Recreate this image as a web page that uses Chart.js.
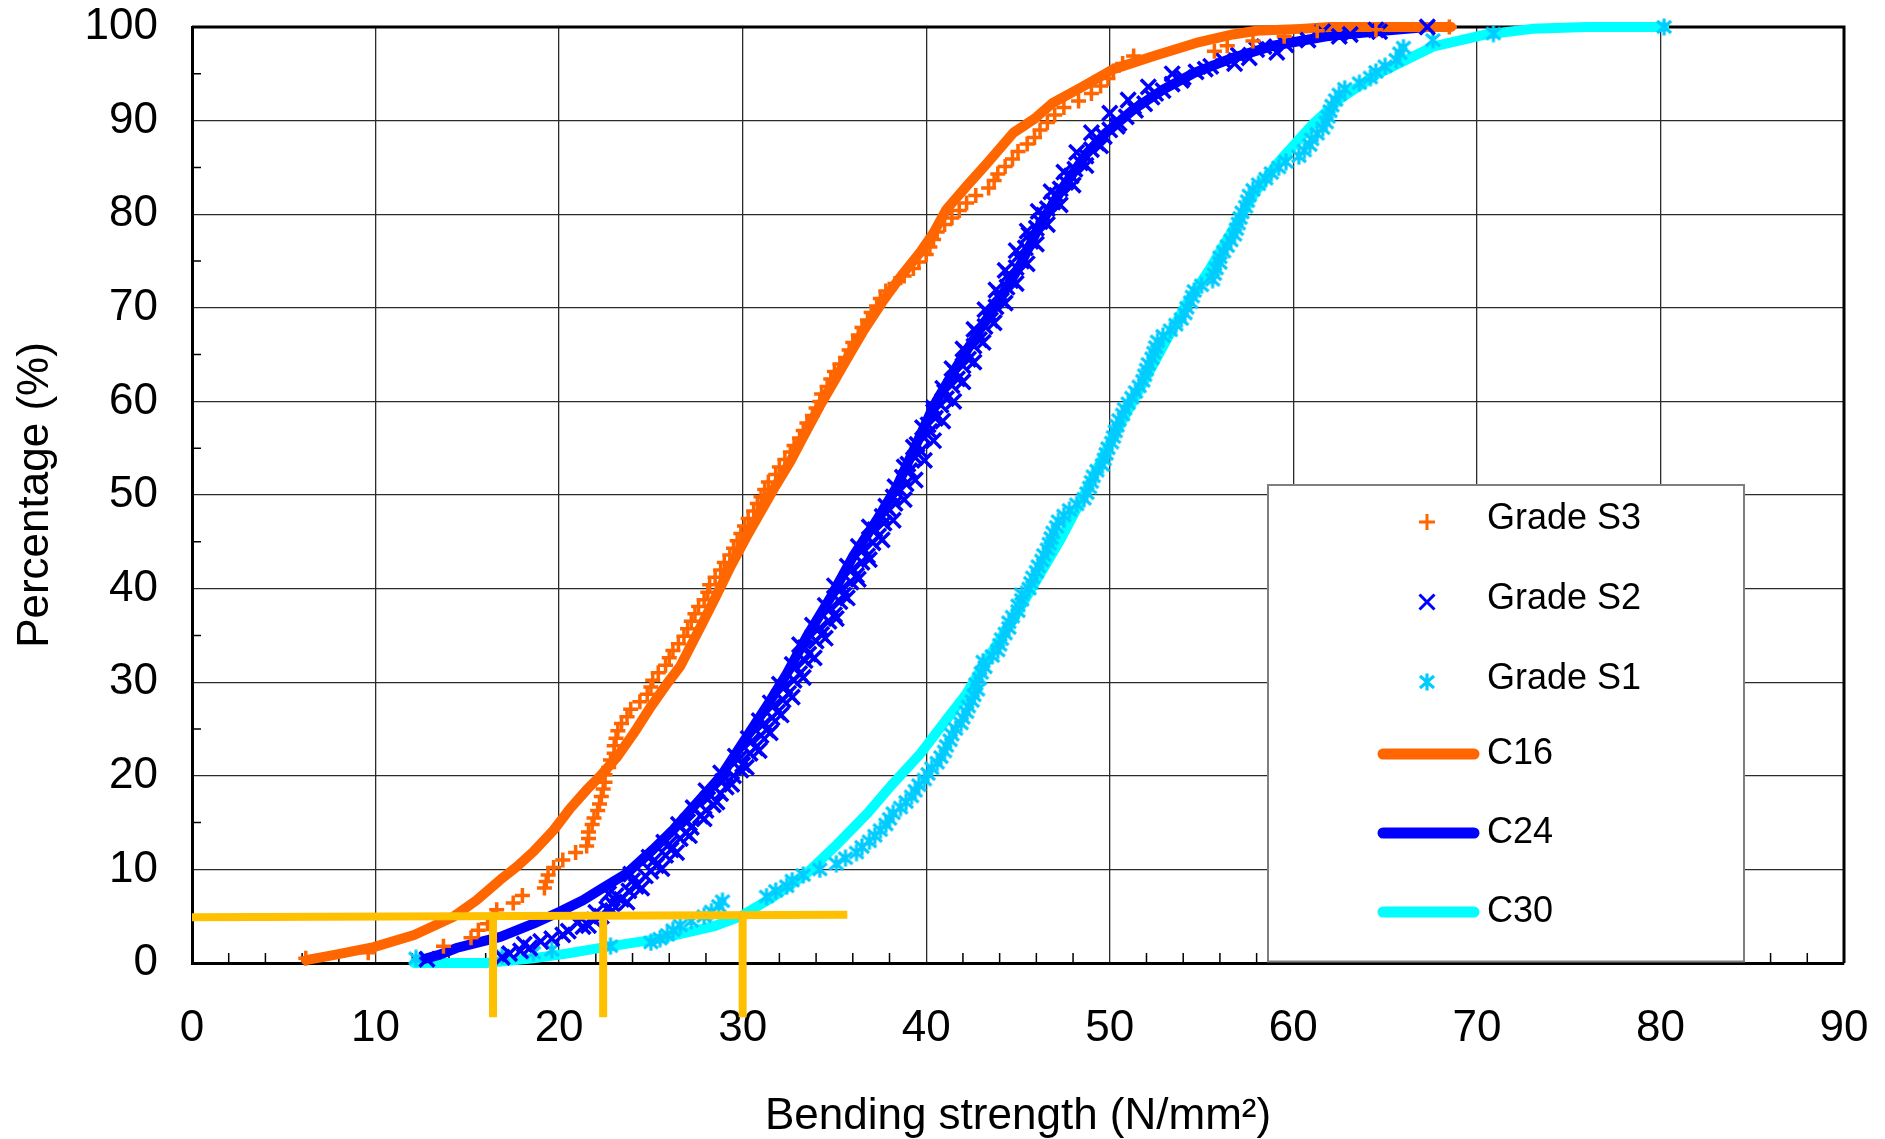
<!DOCTYPE html>
<html>
<head>
<meta charset="utf-8">
<script src="https://cdn.jsdelivr.net/npm/chart.js@4.4.1/dist/chart.umd.min.js"></script>
<style>
  html, body { margin: 0; padding: 0; background: #fff; overflow: hidden; }
  #chart { display: block; }
</style>
</head>
<body>
<canvas id="chart" width="1885" height="1139"></canvas>
<script>
// [strength N/mm2, cumulative %]
const gradeS3 = [[6.2,0.5],[9.6,1.1],[13.7,1.8],[15.2,2.7],[15.6,3.5],[16.1,4.2],[16.4,5.0],[16.6,5.7],[17.5,6.4],[18.0,7.2],
  [19.2,8.0],[19.3,8.7],[19.4,9.4],[19.7,10.2],[20.2,11.0],[20.9,11.8],[21.5,12.5],[21.6,13.3],[21.6,14.0],[21.8,14.8],
  [21.9,15.5],[22.1,16.3],[22.2,17.0],[22.3,17.8],[22.4,18.6],[22.5,19.3],[22.5,20.1],[22.7,20.9],[22.8,21.7],[23.0,22.4],
  [23.0,23.2],[23.1,24.0],[23.2,24.8],[23.4,25.6],[23.7,26.3],[23.9,27.1],[24.4,27.9],[24.8,28.7],[25.0,29.5],[25.1,30.2],
  [25.4,31.0],[25.8,31.8],[26.0,32.6],[26.2,33.4],[26.5,34.1],[26.8,34.9],[27.0,35.7],[27.2,36.5],[27.4,37.3],[27.6,38.1],
  [27.9,38.8],[28.1,39.6],[28.2,40.4],[28.5,41.2],[28.8,42.0],[29.0,42.8],[29.3,43.6],[29.5,44.3],[29.7,45.1],[29.9,45.9],
  [30.1,46.7],[30.3,47.5],[30.6,48.3],[30.8,49.1],[31.0,49.8],[31.2,50.6],[31.4,51.4],[31.8,52.2],[32.0,53.0],[32.3,53.8],
  [32.6,54.6],[32.8,55.3],[33.1,56.1],[33.3,56.9],[33.5,57.7],[33.8,58.5],[34.0,59.3],[34.2,60.0],[34.3,60.8],[34.6,61.6],
  [34.8,62.4],[35.0,63.2],[35.3,64.0],[35.6,64.7],[35.8,65.5],[36.0,66.3],[36.3,67.1],[36.5,67.9],[36.8,68.7],[37.0,69.5],
  [37.3,70.2],[37.5,71.0],[37.8,71.8],[38.3,72.6],[38.8,73.4],[39.3,74.2],[39.6,74.9],[40.0,75.7],[40.2,76.5],[40.4,77.3],
  [40.6,78.1],[41.0,78.9],[41.4,79.6],[41.8,80.4],[42.2,81.2],[42.7,82.0],[43.4,82.8],[43.7,83.6],[43.9,84.3],[44.3,85.1],
  [44.7,85.9],[45.0,86.7],[45.5,87.5],[45.9,88.2],[46.2,89.0],[46.6,89.8],[47.0,90.6],[47.5,91.4],[48.3,92.1],[49.0,92.9],
  [49.5,93.7],[49.9,94.5],[50.2,95.3],[50.7,96.1],[51.3,96.9],[55.7,97.4],[56.4,98.0],[57.8,98.5],[59.5,99.0],[61.3,99.6],
  [64.5,99.7],[68.5,100]];

const gradeS2 = [[12.8,0.4],[16.9,0.6],[17.3,1.0],[17.9,1.3],[18.4,1.6],[18.1,2.0],[19.0,2.3],[19.6,2.6],[20.2,3.0],[20.5,3.4],
  [21.3,3.9],[21.0,4.3],[21.9,4.6],[22.3,5.0],[22.0,5.4],[22.6,5.8],[22.9,6.3],[23.4,6.8],[23.1,7.2],[23.8,7.7],
  [24.2,8.2],[24.0,8.8],[24.7,9.3],[25.0,9.8],[25.3,10.4],[25.2,11.0],[25.8,11.5],[26.1,12.1],[26.0,12.7],[26.6,13.3],
  [26.9,13.9],[27.2,14.5],[27.0,15.1],[27.7,15.7],[28.0,16.3],[28.4,16.9],[28.1,17.5],[28.8,18.1],[29.1,18.8],[28.9,19.4],
  [29.5,20.0],[29.9,20.6],[30.0,21.2],[29.8,21.8],[30.4,22.4],[30.7,23.0],[30.5,23.7],[31.0,24.3],[31.3,24.9],[31.2,25.6],
  [31.6,26.2],[31.9,26.8],[31.7,27.5],[32.2,28.1],[32.5,28.8],[32.3,29.5],[32.8,30.2],[33.1,30.9],[32.9,31.6],[33.4,32.3],
  [33.6,33.0],[33.4,33.7],[34.0,34.4],[34.3,35.1],[34.2,35.8],[34.7,36.5],[35.0,37.2],[34.8,37.9],[35.3,38.6],[35.5,39.3],
  [35.4,40.0],[35.9,40.7],[36.2,41.4],[36.0,42.1],[36.5,42.8],[36.8,43.5],[36.6,44.2],[37.1,44.9],[37.4,45.6],[37.2,46.3],
  [37.7,47.0],[37.6,47.7],[38.0,48.4],[38.3,49.1],[38.2,49.8],[38.6,50.5],[38.9,51.2],[38.7,51.9],[39.1,52.6],[39.0,53.3],
  [39.4,54.0],[39.7,54.7],[39.5,55.4],[39.9,56.1],[40.2,56.8],[40.1,57.5],[40.5,58.2],[40.4,58.9],[40.8,59.6],[41.1,60.3],
  [41.0,61.0],[41.4,61.7],[41.7,62.4],[41.6,63.1],[42.0,63.8],[42.3,64.5],[42.2,65.2],[42.6,65.9],[42.9,66.6],[42.8,67.3],
  [43.2,68.0],[43.5,68.7],[43.4,69.4],[43.8,70.1],[44.1,70.8],[44.0,71.5],[44.4,72.2],[44.6,72.9],[44.5,73.6],[44.9,74.3],
  [45.2,75.0],[45.1,75.7],[45.4,76.4],[45.7,77.1],[45.6,77.8],[46.0,78.5],[46.2,79.2],[46.4,79.9],[46.6,80.6],[46.9,81.3],
  [47.1,82.0],[47.3,82.7],[47.6,83.4],[47.9,84.1],[48.1,84.8],[48.4,85.5],[48.7,86.2],[49.0,86.9],[49.3,87.6],[49.7,88.3],
  [50.0,89.0],[50.5,89.7],[50.9,90.4],[51.4,91.1],[51.9,91.8],[52.3,92.5],[52.9,93.2],[53.4,93.9],[54.0,94.6],[54.7,95.2],
  [55.5,95.8],[56.2,96.4],[57.0,97.0],[58.0,97.6],[59.6,98.1],[60.8,98.6],[62.5,99.0],[63.1,99.2],[61.6,99.5],[64.7,99.5],
  [64.5,99.7],[67.3,100],
  [21.6,4.0],[22.9,5.6],[23.7,6.5],[22.7,7.4],[24.5,8.0],[23.9,9.5],[25.6,10.1],[24.9,11.3],[26.4,11.8],[25.7,12.9],
  [27.1,13.6],[26.5,14.8],[27.9,15.4],[27.3,16.6],[28.6,17.2],[28.0,18.4],[29.4,19.1],[28.8,20.3],[30.2,20.9],[29.6,22.1],
  [30.9,22.7],[30.3,24.0],[31.5,24.6],[30.9,25.9],[32.1,26.5],[31.5,27.8],[32.7,28.4],[32.0,29.8],[33.3,30.5],[32.7,31.9],
  [33.9,32.6],[33.1,34.0],[34.5,34.7],[33.8,36.1],[35.1,36.8],[34.5,38.2],[35.7,39.0],[35.0,40.3],[36.3,41.0],[35.7,42.4],
  [36.9,43.1],[36.3,44.5],[37.6,45.2],[36.9,46.6],[38.2,47.3],[37.8,48.8],[38.8,49.5],[38.3,50.9],[39.4,51.6],[38.8,53.0],
  [39.9,53.7],[39.3,55.1],[40.4,55.8],[39.8,57.2],[40.9,57.9],[40.4,59.3],[41.5,60.0],[40.9,61.4],[42.0,62.1],[41.4,63.5],
  [42.6,64.2],[42.0,65.6],[43.1,66.3],[42.6,67.7],[43.7,68.4],[43.2,69.8],[44.3,70.5],[43.8,71.9],[44.9,72.6],[44.3,74.0],
  [45.5,74.7],[44.9,76.1],[46.0,76.8],[45.5,78.2],[46.6,78.9],[46.1,80.3],[47.3,81.0],[46.8,82.4],[48.0,83.1],[47.5,84.5],
  [48.7,85.2],[48.2,86.6],[49.5,87.3],[49.0,88.7],[50.4,89.4],[50.0,90.8],[51.3,91.5],[51.0,92.2],[52.5,92.9],[52.1,93.6],
  [53.9,94.3],[53.4,95.0],[55.2,95.5],[56.8,96.1],[57.6,96.7],[59.1,97.3],[58.4,97.9]];

const gradeS1 = [[12.2,0.5],[16.9,0.8],[18.6,1.1],[19.6,1.4],[22.8,1.8],[25.0,2.2],[25.5,2.6],[25.9,3.0],[26.2,3.5],[26.6,4.0],
  [27.2,4.5],[27.9,5.0],[28.3,5.5],[28.7,6.1],[28.9,6.6],[31.3,7.1],[31.8,7.7],[32.4,8.2],[32.7,8.8],[33.3,9.4],
  [34.2,10.0],[35.1,10.6],[35.6,11.2],[36.2,11.8],[36.5,12.4],[36.9,13.0],[37.2,13.6],[37.5,14.2],[37.8,14.8],[38.0,15.4],
  [38.2,16.0],[38.6,16.6],[38.9,17.2],[39.2,17.8],[39.4,18.4],[39.6,19.0],[39.9,19.6],[40.1,20.2],[40.3,20.8],[40.6,21.4],
  [40.8,22.0],[41.0,22.6],[41.1,23.2],[41.3,23.8],[41.4,24.4],[41.6,25.0],[41.9,25.6],[42.0,26.2],[42.2,26.8],[42.3,27.4],
  [42.5,28.0],[42.6,28.6],[42.8,29.2],[42.7,29.8],[42.9,30.4],[43.0,31.0],[43.2,31.6],[43.1,32.2],[43.6,32.8],[43.9,33.4],
  [44.0,34.0],[44.1,34.6],[44.3,35.2],[44.5,35.8],[44.5,36.4],[44.7,37.0],[45.0,37.6],[45.0,38.2],[45.2,38.8],[45.2,39.4],
  [45.6,40.0],[45.7,40.6],[45.8,41.2],[46.0,41.8],[46.1,42.4],[46.3,43.0],[46.4,43.6],[46.6,44.2],[46.7,44.8],[46.8,45.4],
  [46.9,46.0],[47.1,46.6],[47.2,47.2],[47.5,47.8],[47.8,48.4],[48.2,49.0],[48.6,49.6],[48.75,50.2],[48.9,50.8],[49.0,51.4],
  [49.1,52.0],[49.3,52.6],[49.6,53.2],[49.7,53.8],[49.8,54.4],[49.9,55.0],[50.1,55.6],[50.2,56.2],[50.3,56.8],[50.4,57.4],
  [50.5,58.0],[50.7,58.6],[50.8,59.2],[51.0,59.8],[51.2,60.4],[51.4,61.0],[51.6,61.6],[51.8,62.2],[51.9,62.8],[52.0,63.4],
  [52.1,64.0],[52.3,64.6],[52.4,65.2],[52.5,65.8],[52.6,66.4],[52.9,67.0],[53.3,67.6],[53.6,68.2],[53.9,68.8],[54.1,69.4],
  [54.2,70.0],[54.4,70.6],[54.5,71.2],[54.6,71.8],[55.0,72.4],[55.6,73.0],[55.7,73.6],[55.8,74.2],[56.0,74.8],[56.0,75.4],
  [56.2,76.0],[56.4,76.6],[56.6,77.2],[56.8,77.8],[56.9,78.4],[57.0,79.0],[57.1,79.6],[57.2,80.2],[57.4,80.8],[57.5,81.4],
  [57.6,82.0],[57.8,82.6],[58.1,83.2],[58.5,83.8],[58.8,84.4],[59.2,85.0],[59.6,85.6],[60.3,86.2],[60.6,86.8],[60.9,87.4],
  [61.0,88.0],[61.3,88.6],[61.6,89.2],[61.8,89.8],[61.9,90.4],[62.0,91.0],[62.1,91.6],[62.3,92.2],[62.5,92.8],[62.8,93.4],
  [63.6,94.0],[64.2,94.6],[64.5,95.2],[65.0,95.8],[65.6,96.5],[65.8,97.2],[66.0,97.8],[67.6,98.6],[70.9,99.3],[80.2,100]];

// characteristic-value fitted curves
const c16Curve = [[6.2,0.3],[7.7,0.85],[9.9,1.7],[12.1,3.0],[14.25,4.95],[15.5,6.7],[16.8,8.9],[17.7,10.3],[18.6,11.9],
  [19.7,14.2],[20.6,16.5],[21.5,18.5],[22.2,19.9],[23.15,22.0],[24.05,24.5],[25.0,27.4],[25.9,29.9],[26.6,31.7],[27.7,35.9],
  [28.5,39.0],[29.3,42.2],[30.2,45.5],[31.1,48.6],[31.8,51.0],[32.6,53.6],[33.3,56.2],[34.2,59.5],[35.0,62.2],[35.7,64.6],
  [36.6,67.6],[37.6,70.6],[38.6,73.3],[39.7,76.0],[40.4,78.0],[41.1,80.5],[42.2,83.0],[43.3,85.4],[44.75,88.7],[45.9,90.2],
  [46.9,91.9],[48.4,93.5],[50.2,95.5],[52.4,96.9],[54.7,98.3],[56.7,99.2],[58.0,99.6],[60.4,99.8],[62.0,100],[68.6,100]];

const c24Curve = [[12.6,0.4],[13.5,0.9],[14.4,1.6],[16.8,2.8],[18.6,4.2],[20.06,5.5],[21.3,6.7],[22.2,7.8],[23.7,9.6],
  [25.1,12.1],[26.2,14.2],[27.5,17.1],[28.8,19.9],[30.0,23.5],[31.3,27.4],[32.4,30.9],[33.5,34.9],[34.8,39.1],[36.0,43.4],
  [37.3,47.3],[38.4,50.9],[39.5,55.6],[40.4,59.5],[41.5,63.2],[42.7,67.0],[43.9,70.6],[45.1,74.5],[46.2,78.9],[47.5,83.0],
  [48.75,86.5],[49.8,88.7],[51.3,91.2],[52.9,93.3],[54.6,95.1],[56.7,96.7],[58.9,98.0],[61.8,99.0],[64.9,99.6],[67.3,100]];

const c30Curve = [[12.1,0],[16.0,0],[18.6,0.5],[20.4,1.0],[22.5,1.7],[25.5,2.6],[28.4,3.9],[29.9,5.0],[31.7,7.1],[33.5,9.6],
  [35.0,12.4],[36.8,16.0],[38.2,19.2],[39.7,22.4],[41.1,26.0],[42.2,28.8],[43.3,32.4],[44.7,36.6],[45.8,40.2],[47.3,45.2],
  [48.6,50.0],[50.0,55.5],[51.4,60.5],[52.8,65.5],[54.2,70.5],[55.4,74.0],[56.6,78.0],[57.9,82.3],[59.3,85.8],[61.0,89.5],
  [62.6,92.4],[64.5,94.9],[67.6,97.9],[70.5,99.2],[73.0,99.8],[76.0,100],[80.2,100]];

// 5 % fractile guide
const fractileLine = [[0,4.9],[35.7,5.15]];
const fractileValues = [16.4, 22.4, 30.0];
const fractileDrop = [5.0, -5.8];

const xTicks = [0, 90, 10];
const yTicks = [0, 100, 10];

const FONT = 'Liberation Sans, Arial, sans-serif';
const ORANGE = '#FF6600';
const BLUE = '#0000FF';
const SKY = '#00CCFF';
const CYAN = '#00FFFF';
const GOLD = '#FFC000';

function toXY(pairs) {
  return pairs.map(p => ({ x: p[0], y: p[1] }));
}

function asteriskIcon(color) {
  const c = document.createElement('canvas');
  c.width = 18; c.height = 18;
  const g = c.getContext('2d');
  g.strokeStyle = color;
  g.lineWidth = 3.2;
  g.beginPath();
  g.moveTo(9, 0.5); g.lineTo(9, 17.5);
  g.moveTo(2, 3); g.lineTo(16, 15);
  g.moveTo(2, 15); g.lineTo(16, 3);
  g.stroke();
  return c;
}
const asterisk = asteriskIcon(SKY);

function curve(label, pairs, color, order) {
  return {
    label, data: toXY(pairs), showLine: true, borderColor: color, backgroundColor: color,
    borderWidth: 10, pointRadius: 0, borderCapStyle: 'round', borderJoinStyle: 'round',
    tension: 0, clip: false, order
  };
}

function markers(label, pairs, style, radius, color, order) {
  return {
    label, data: toXY(pairs), showLine: false, pointStyle: style, pointRadius: radius,
    pointBorderColor: color, pointBackgroundColor: color, pointBorderWidth: 3.5,
    borderColor: color, borderWidth: 3.5, clip: false, order
  };
}

function guide(pairs) {
  return {
    label: '', data: toXY(pairs), showLine: true, borderColor: GOLD, borderWidth: 8,
    pointRadius: 0, borderCapStyle: 'butt', clip: false, order: 0
  };
}

const datasets = [
  markers('Grade S3', gradeS3, 'cross', 7.5, ORANGE, 1),
  markers('Grade S2', gradeS2, 'crossRot', 10.5, BLUE, 2),
  markers('Grade S1', gradeS1, asterisk, 9, SKY, 3),
  curve('C16', c16Curve, ORANGE, 4),
  curve('C24', c24Curve, BLUE, 5),
  curve('C30', c30Curve, CYAN, 6),
  guide(fractileLine)
];
fractileValues.forEach(v => datasets.push(guide(fractileDrop.map(p => [v, p]))));

// frame, minor ticks and the boxed legend
const framePlugin = {
  id: 'frame',
  beforeDatasetsDraw(chart) {
    const { ctx, chartArea: a, scales: { x, y } } = chart;
    ctx.save();
    ctx.strokeStyle = '#000';
    ctx.lineWidth = 1.5;
    ctx.beginPath();
    for (let v = 2; v < 90; v += 2) {
      if (v % 10 === 0) continue;
      const px = x.getPixelForValue(v);
      ctx.moveTo(px, a.bottom); ctx.lineTo(px, a.bottom - 10);
    }
    for (let v = 5; v < 100; v += 10) {
      const py = y.getPixelForValue(v);
      ctx.moveTo(a.left, py); ctx.lineTo(a.left + 9, py);
    }
    ctx.stroke();
    ctx.lineWidth = 3;
    ctx.beginPath();
    ctx.moveTo(a.left, a.top); ctx.lineTo(a.right, a.top); ctx.lineTo(a.right, a.bottom);
    ctx.stroke();
    ctx.restore();
  },
  afterDraw(chart) {
    const { ctx } = chart;
    const box = { left: 1268, top: 485, right: 1744, bottom: 961.5 };
    ctx.save();
    ctx.fillStyle = '#fff';
    ctx.fillRect(box.left, box.top, box.right - box.left, box.bottom - box.top);
    ctx.strokeStyle = '#7f7f7f';
    ctx.lineWidth = 2;
    ctx.strokeRect(box.left, box.top, box.right - box.left, box.bottom - box.top);

    const textX = 1487, markX = 1427;
    const rows = [
      { label: 'Grade S3', y: 522, kind: 'plus', color: ORANGE },
      { label: 'Grade S2', y: 602, kind: 'x', color: BLUE },
      { label: 'Grade S1', y: 682, kind: 'star' },
      { label: 'C16', y: 754, kind: 'line', color: ORANGE },
      { label: 'C24', y: 833, kind: 'line', color: BLUE },
      { label: 'C30', y: 912, kind: 'line', color: CYAN }
    ];
    rows.forEach(r => {
      ctx.lineCap = 'butt';
      if (r.kind === 'plus') {
        ctx.strokeStyle = r.color; ctx.lineWidth = 3;
        ctx.beginPath();
        ctx.moveTo(markX - 8, r.y); ctx.lineTo(markX + 8, r.y);
        ctx.moveTo(markX, r.y - 8); ctx.lineTo(markX, r.y + 8);
        ctx.stroke();
      } else if (r.kind === 'x') {
        ctx.strokeStyle = r.color; ctx.lineWidth = 3;
        ctx.beginPath();
        ctx.moveTo(markX - 7.5, r.y - 7.5); ctx.lineTo(markX + 7.5, r.y + 7.5);
        ctx.moveTo(markX - 7.5, r.y + 7.5); ctx.lineTo(markX + 7.5, r.y - 7.5);
        ctx.stroke();
      } else if (r.kind === 'star') {
        ctx.drawImage(asterisk, markX - 9, r.y - 9);
      } else {
        ctx.strokeStyle = r.color; ctx.lineWidth = 11; ctx.lineCap = 'round';
        ctx.beginPath();
        ctx.moveTo(1383, r.y); ctx.lineTo(1474, r.y);
        ctx.stroke();
      }
      ctx.fillStyle = '#000';
      ctx.font = '36px ' + FONT;
      ctx.textBaseline = 'middle';
      ctx.textAlign = 'left';
      ctx.fillText(r.label, textX, r.kind === 'line' ? r.y : r.y - 3);
    });
    ctx.restore();
  }
};

const tickFont = { family: FONT, size: 44 };
const gridStyle = { color: '#2b2b2b', lineWidth: 1.3, drawTicks: false };

new Chart(document.getElementById('chart'), {
  type: 'scatter',
  data: { datasets },
  options: {
    responsive: false,
    animation: false,
    events: [],
    layout: { autoPadding: false, padding: { top: 27, right: 41, bottom: 0, left: 0 } },
    plugins: { legend: { display: false }, tooltip: { enabled: false } },
    scales: {
      x: {
        type: 'linear', min: xTicks[0], max: xTicks[1],
        ticks: { stepSize: xTicks[2], font: tickFont, color: '#000', padding: 39, maxRotation: 0 },
        grid: gridStyle,
        border: { color: '#000', width: 3 },
        title: { display: true, text: 'Bending strength (N/mm²)', font: tickFont, color: '#000', padding: { top: 0, bottom: -4 } },
        afterFit: s => { s.height = 176; s.paddingLeft = 0; s.paddingRight = 0; }
      },
      y: {
        type: 'linear', min: yTicks[0], max: yTicks[1],
        ticks: { stepSize: yTicks[2], font: tickFont, color: '#000', padding: 34 },
        grid: gridStyle,
        border: { color: '#000', width: 3 },
        title: { display: true, text: 'Percentage (%)', font: tickFont, color: '#000', padding: { top: 9, bottom: 0 } },
        afterFit: s => { s.width = 192; s.paddingTop = 0; s.paddingBottom = 0; }
      }
    }
  },
  plugins: [framePlugin]
});
</script>
</body>
</html>
